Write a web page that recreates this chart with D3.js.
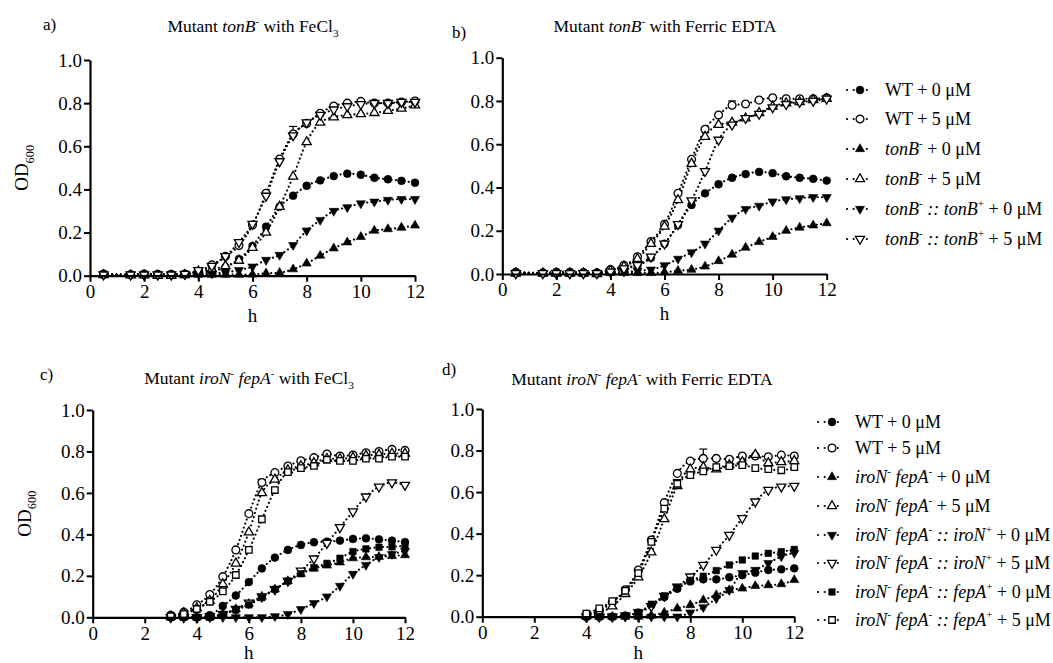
<!DOCTYPE html>
<html><head><meta charset="utf-8">
<script src="https://cdn.jsdelivr.net/npm/d3@7"></script>
<style>
html,body{margin:0;padding:0;background:#fff;}
svg{display:block;font-family:"Liberation Serif","Times New Roman",serif;}
</style></head>
<body><svg id="chart" width="1053" height="663"></svg>
<script>
// ---------- DATA ----------
const timesAB = [0.5,1.5,2,2.5,3,3.5,4,4.5,5,5.5,6,6.5,7,7.5,8,8.5,9,9.5,10,10.5,11,11.5,12];
const timesC = [3,3.5,4,4.5,5,5.5,6,6.5,7,7.5,8,8.5,9,9.5,10,10.5,11,11.5,12];
const timesD = [4,4.5,5,5.5,6,6.5,7,7.5,8,8.5,9,9.5,10,10.5,11,11.5,12];
const xTicks = [0,2,4,6,8,10,12];
const yTicks = [0,0.2,0.4,0.6,0.8,1.0];

// Panel a: tonB- with FeCl3
const aWT0  = [0.01,0.005,0.01,0.008,0.008,0.008,0.015,0.02,0.04,0.077,0.138,0.227,0.32,0.371,0.417,0.442,0.462,0.473,0.468,0.454,0.447,0.44,0.431];
const aWT5  = [0.005,0.005,0.005,0.005,0.005,0.008,0.02,0.05,0.09,0.14,0.235,0.382,0.541,0.657,0.706,0.753,0.787,0.8,0.808,0.8,0.8,0.805,0.81];
const aTon0 = [0.005,0.003,0.003,0.003,0.003,0.003,0.005,0.005,0.005,0.005,0.006,0.011,0.014,0.03,0.057,0.093,0.127,0.155,0.18,0.209,0.216,0.223,0.233];
const aTon5 = [0.003,0.002,0.002,0.0,0.0,0.003,0.02,0.03,0.045,0.07,0.13,0.2,0.32,0.46,0.62,0.71,0.735,0.745,0.75,0.755,0.765,0.775,0.79];
const aCom0 = [0.005,0.003,0.003,0.003,0.003,0.005,0.008,0.01,0.015,0.026,0.042,0.073,0.096,0.142,0.209,0.258,0.3,0.317,0.335,0.343,0.351,0.355,0.355];
const aCom5 = [0.005,0.005,0.005,0.005,0.005,0.008,0.025,0.045,0.09,0.155,0.24,0.37,0.53,0.65,0.71,0.745,0.77,0.785,0.795,0.8,0.8,0.805,0.805];

// Panel b: tonB- with Ferric EDTA
const bWT0  = [0.01,0.005,0.01,0.01,0.008,0.005,0.02,0.03,0.04,0.075,0.14,0.226,0.319,0.373,0.415,0.445,0.462,0.472,0.466,0.452,0.445,0.44,0.432];
const bWT5  = [0.005,0.005,0.005,0.005,0.005,0.005,0.02,0.04,0.08,0.15,0.23,0.373,0.53,0.669,0.735,0.78,0.786,0.804,0.815,0.81,0.81,0.81,0.815];
const bTon0 = [0.005,0.003,0.003,0.003,0.003,0.003,0.005,0.005,0.005,0.005,0.008,0.015,0.02,0.035,0.06,0.09,0.122,0.148,0.172,0.2,0.215,0.225,0.235];
const bTon5 = [0.003,0.003,0.003,0.003,0.003,0.0,0.015,0.035,0.07,0.14,0.22,0.342,0.51,0.635,0.69,0.7,0.72,0.745,0.775,0.79,0.795,0.805,0.81];
const bCom0 = [0.005,0.003,0.003,0.003,0.003,0.005,0.008,0.01,0.015,0.02,0.04,0.07,0.1,0.14,0.2,0.26,0.3,0.315,0.335,0.345,0.35,0.355,0.355];
const bCom5 = [0.003,0.003,0.003,0.003,0.003,0.003,0.01,0.025,0.04,0.08,0.14,0.23,0.34,0.475,0.62,0.69,0.72,0.74,0.77,0.785,0.795,0.8,0.81];

// Panel c: iroN- fepA- with FeCl3
const cWT0  = [0.0,0.0,0.0,0.01,0.055,0.105,0.17,0.236,0.288,0.325,0.349,0.362,0.365,0.37,0.378,0.381,0.376,0.37,0.363];
const cWT5  = [0.01,0.025,0.06,0.11,0.196,0.325,0.5,0.65,0.698,0.73,0.755,0.77,0.788,0.778,0.783,0.794,0.8,0.81,0.805];
const cDbl0 = [0.0,0.0,0.0,0.0,0.015,0.04,0.065,0.1,0.135,0.175,0.21,0.235,0.25,0.265,0.285,0.29,0.292,0.296,0.3];
const cDbl5 = [0.005,0.02,0.045,0.08,0.16,0.26,0.41,0.6,0.665,0.71,0.73,0.745,0.765,0.765,0.77,0.78,0.785,0.79,0.79];
const cIro0 = [0.0,0.0,0.0,0.0,0.0,0.0,0.0,0.0,0.005,0.015,0.039,0.068,0.1,0.151,0.209,0.252,0.29,0.305,0.32];
const cIro5 = [0.0,0.0,0.0,0.005,0.015,0.04,0.07,0.1,0.135,0.175,0.225,0.283,0.358,0.434,0.51,0.582,0.63,0.65,0.638];
const cFep0 = [0.0,0.0,0.0,0.0,0.015,0.035,0.06,0.095,0.135,0.175,0.21,0.24,0.26,0.285,0.317,0.33,0.338,0.34,0.345];
const cFep5 = [0.005,0.015,0.04,0.075,0.125,0.204,0.325,0.473,0.614,0.7,0.72,0.73,0.76,0.755,0.755,0.765,0.765,0.775,0.775];

// Panel d: iroN- fepA- with Ferric EDTA
const dWT0  = [0.0,0.0,0.0,0.005,0.02,0.055,0.095,0.135,0.17,0.18,0.18,0.19,0.2,0.212,0.225,0.228,0.233];
const dWT5  = [0.01,0.03,0.07,0.13,0.225,0.369,0.549,0.69,0.749,0.762,0.762,0.758,0.774,0.774,0.77,0.778,0.774];
const dDbl0 = [0.0,0.0,0.0,0.0,0.0,0.005,0.02,0.04,0.056,0.08,0.104,0.128,0.136,0.148,0.152,0.157,0.177];
const dDbl5 = [0.005,0.02,0.05,0.11,0.19,0.31,0.47,0.63,0.71,0.72,0.71,0.73,0.745,0.78,0.74,0.745,0.75];
const dIro0 = [0.0,0.0,0.0,0.0,0.0,0.0,0.0,0.0,0.02,0.045,0.088,0.128,0.21,0.225,0.258,0.29,0.307];
const dIro5 = [0.0,0.0,0.0,0.005,0.02,0.05,0.1,0.144,0.193,0.249,0.321,0.393,0.474,0.554,0.61,0.626,0.629];
const dFep0 = [0.0,0.0,0.0,0.005,0.02,0.06,0.1,0.14,0.175,0.195,0.222,0.249,0.273,0.292,0.305,0.313,0.324];
const dFep5 = [0.015,0.04,0.075,0.125,0.21,0.36,0.52,0.64,0.682,0.7,0.72,0.725,0.73,0.715,0.71,0.705,0.72];

// error bars (panel, series index, time, sd)
const errorBars = [
  {p:"a", s:1, t:7.5, e:0.035},
  {p:"b", s:1, t:8.5, e:0.02},
  {p:"c", s:1, t:6.5, e:0.015},
  {p:"d", s:1, t:8.5, e:0.045},
  {p:"d", s:7, t:7.5, e:0.02}
];

// legend labels (segments: t=text, i=italic, sup=superscript)
const legendTop = [
  [{t:"WT + 0 μM"}],
  [{t:"WT + 5 μM"}],
  [{t:"tonB",i:1},{t:"-",sup:1},{t:" + 0 μM"}],
  [{t:"tonB",i:1},{t:"-",sup:1},{t:" + 5 μM"}],
  [{t:"tonB",i:1},{t:"-",sup:1},{t:" :: tonB",i:1},{t:"+",sup:1},{t:" + 0 μM"}],
  [{t:"tonB",i:1},{t:"-",sup:1},{t:" :: tonB",i:1},{t:"+",sup:1},{t:" + 5 μM"}]
];
const legendBottom = [
  [{t:"WT + 0 μM"}],
  [{t:"WT + 5 μM"}],
  [{t:"iroN",i:1},{t:"-",sup:1},{t:" fepA",i:1},{t:"-",sup:1},{t:" + 0 μM"}],
  [{t:"iroN",i:1},{t:"-",sup:1},{t:" fepA",i:1},{t:"-",sup:1},{t:" + 5 μM"}],
  [{t:"iroN",i:1},{t:"-",sup:1},{t:" fepA",i:1},{t:"-",sup:1},{t:" :: iroN",i:1},{t:"+",sup:1},{t:" + 0 μM"}],
  [{t:"iroN",i:1},{t:"-",sup:1},{t:" fepA",i:1},{t:"-",sup:1},{t:" :: iroN",i:1},{t:"+",sup:1},{t:" + 5 μM"}],
  [{t:"iroN",i:1},{t:"-",sup:1},{t:" fepA",i:1},{t:"-",sup:1},{t:" :: fepA",i:1},{t:"+",sup:1},{t:" + 0 μM"}],
  [{t:"iroN",i:1},{t:"-",sup:1},{t:" fepA",i:1},{t:"-",sup:1},{t:" :: fepA",i:1},{t:"+",sup:1},{t:" + 5 μM"}]
];

// ---------- STYLES ----------
const markerStyles = [
  {type:d3.symbolCircle, size:48, fill:true},
  {type:d3.symbolCircle, size:48, fill:false},
  {type:d3.symbolTriangle, size:36, fill:true, rot:0},
  {type:d3.symbolTriangle, size:36, fill:false, rot:0},
  {type:d3.symbolTriangle, size:36, fill:true, rot:180},
  {type:d3.symbolTriangle, size:36, fill:false, rot:180},
  {type:d3.symbolSquare, size:42, fill:true},
  {type:d3.symbolSquare, size:42, fill:false}
];

const svg = d3.select("#chart");
const FONT = 19;
const SERIF = '"Liberation Serif","Times New Roman",serif';

function rich(textSel, segs, size){
  let shift = 0;
  segs.forEach(s=>{
    const ts = textSel.append("tspan").text(s.t);
    if(s.i) ts.attr("font-style","italic");
    let target = 0;
    if(s.sup){ target = -size*0.42; ts.attr("font-size", size*0.62); }
    else if(s.sub){ target = size*0.3; ts.attr("font-size", size*0.65); }
    const dy = target - shift;
    if(dy !== 0) ts.attr("dy", dy);
    shift = target;
  });
}

function marker(g, st, x, y){
  g.append("path")
    .attr("d", d3.symbol().type(st.type).size(st.size)())
    .attr("transform", `translate(${x},${y}) rotate(${st.rot||0})`)
    .attr("fill", st.fill ? "#000" : "#fff")
    .attr("stroke", "#000")
    .attr("stroke-width", st.fill ? 0.6 : 1.3);
}

function drawPanel(cfg){
  const g = svg.append("g");
  const x = d3.scaleLinear().domain([0,12]).range([cfg.x0, cfg.x1]);
  const y = d3.scaleLinear().domain([0,1]).range([cfg.yb, cfg.yt]);

  // lines
  const line = d3.line().x(d=>x(d[0])).y(d=>y(d[1])).curve(d3.curveMonotoneX);
  cfg.series.forEach((vals)=>{
    const pts = cfg.times.map((t,i)=>[t, vals[i]]);
    g.append("path").attr("d", line(pts))
      .attr("fill","none").attr("stroke","#000")
      .attr("stroke-width",2.1).attr("stroke-linecap","round")
      .attr("stroke-dasharray","0.1,4.2");
  });

  // error bars
  errorBars.filter(e=>e.p===cfg.id).forEach(e=>{
    const i = cfg.times.indexOf(e.t);
    const v = cfg.series[e.s][i];
    g.append("line").attr("x1",x(e.t)).attr("x2",x(e.t))
      .attr("y1",y(v)).attr("y2",y(v+e.e)).attr("stroke","#000").attr("stroke-width",1.2);
    g.append("line").attr("x1",x(e.t)-4).attr("x2",x(e.t)+4)
      .attr("y1",y(v+e.e)).attr("y2",y(v+e.e)).attr("stroke","#000").attr("stroke-width",1.2);
  });

  // markers
  cfg.series.forEach((vals, si)=>{
    const st = markerStyles[si];
    cfg.times.forEach((t,i)=> marker(g, st, x(t), y(vals[i])));
  });

  // axes
  const xa = g.append("g").attr("transform",`translate(0,${cfg.yb})`)
    .call(d3.axisBottom(x).tickValues(xTicks).tickFormat(d3.format("d")).tickSize(6).tickSizeOuter(0).tickPadding(3));
  const ya = g.append("g").attr("transform",`translate(${cfg.x0},0)`)
    .call(d3.axisLeft(y).tickValues(yTicks).tickFormat(d3.format(".1f")).tickSize(6).tickSizeOuter(0).tickPadding(2));
  [xa, ya].forEach(a=>{
    a.attr("font-family", SERIF).attr("font-size", FONT);
    a.select(".domain").attr("stroke","#000").attr("stroke-width",2.2);
    a.selectAll(".tick line").attr("stroke","#000").attr("stroke-width",2);
    a.selectAll(".tick text").attr("fill","#000");
  });

  // x title
  g.append("text").attr("x",(cfg.x0+cfg.x1)/2).attr("y",Math.min(cfg.yb+46, 659))
    .attr("text-anchor","middle").attr("font-size",FONT).text("h");

  // y title
  if(cfg.ylab){
    const t = g.append("text")
      .attr("transform",`translate(${cfg.x0-62},${(cfg.yt+cfg.yb)/2}) rotate(-90)`)
      .attr("text-anchor","middle").attr("font-size",FONT);
    rich(t, [{t:"OD"},{t:"600",sub:1}], FONT);
  }

  // panel label and title
  g.append("text").attr("x",cfg.lx).attr("y",cfg.ly).attr("font-size",17).text(cfg.label);
  const tt = g.append("text").attr("x",cfg.tx).attr("y",cfg.ty)
    .attr("text-anchor","middle").attr("font-size",17.5);
  rich(tt, cfg.title, 17.5);
}

function drawLegend(labels, lx, mx, tx, ys){
  const g = svg.append("g");
  labels.forEach((segs, i)=>{
    const yy = ys[i];
    g.append("line").attr("x1",lx).attr("x2",lx+24).attr("y1",yy).attr("y2",yy)
      .attr("stroke","#000").attr("stroke-width",2.1).attr("stroke-linecap","round")
      .attr("stroke-dasharray","0.1,6.5");
    marker(g, markerStyles[i], mx, yy);
    const t = g.append("text").attr("x",tx).attr("y",yy+6).attr("font-size",18);
    rich(t, segs, 18);
  });
}

drawPanel({id:"a", x0:90, x1:415, yt:60, yb:275.7, times:timesAB,
  series:[aWT0,aWT5,aTon0,aTon5,aCom0,aCom5], ylab:true,
  label:"a)", lx:43, ly:30, tx:253, ty:32,
  title:[{t:"Mutant "},{t:"tonB",i:1},{t:"-",sup:1},{t:" with FeCl"},{t:"3",sub:1}]});
drawPanel({id:"b", x0:502.3, x1:826.7, yt:57.7, yb:274, times:timesAB,
  series:[bWT0,bWT5,bTon0,bTon5,bCom0,bCom5], ylab:false,
  label:"b)", lx:452, ly:38, tx:665, ty:32,
  title:[{t:"Mutant "},{t:"tonB",i:1},{t:"-",sup:1},{t:" with Ferric EDTA"}]});
drawPanel({id:"c", x0:92.7, x1:405, yt:410, yb:617.3, times:timesC,
  series:[cWT0,cWT5,cDbl0,cDbl5,cIro0,cIro5,cFep0,cFep5], ylab:true,
  label:"c)", lx:40, ly:380, tx:249, ty:384,
  title:[{t:"Mutant "},{t:"iroN",i:1},{t:"-",sup:1},{t:" "},{t:"fepA",i:1},{t:"-",sup:1},{t:" with FeCl"},{t:"3",sub:1}]});
drawPanel({id:"d", x0:482.3, x1:794.3, yt:409, yb:616.7, times:timesD,
  series:[dWT0,dWT5,dDbl0,dDbl5,dIro0,dIro5,dFep0,dFep5], ylab:false,
  label:"d)", lx:442, ly:375, tx:642, ty:385,
  title:[{t:"Mutant "},{t:"iroN",i:1},{t:"-",sup:1},{t:" "},{t:"fepA",i:1},{t:"-",sup:1},{t:" with Ferric EDTA"}]});

drawLegend(legendTop, 847, 860, 885, [90,119,149,179,209,239]);
drawLegend(legendBottom, 818, 832, 855, [422,448,477,506,535,563,592,620]);
</script></body></html>
